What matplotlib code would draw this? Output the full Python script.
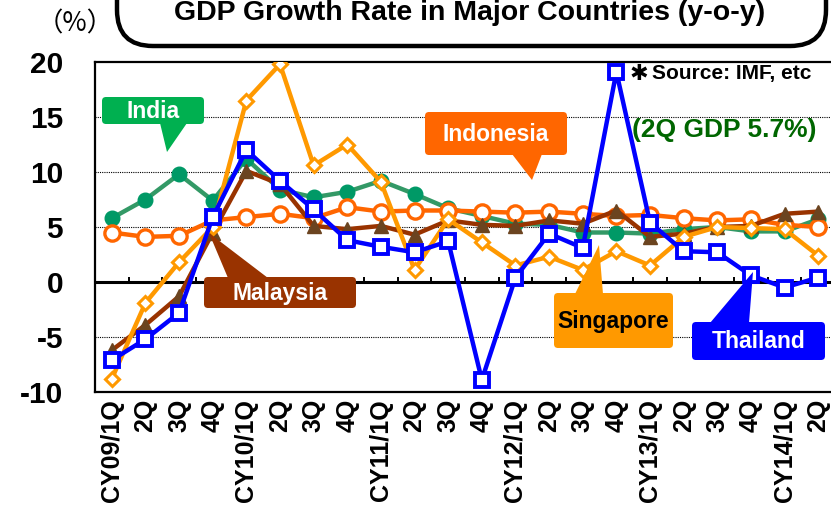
import numpy as np
import matplotlib
matplotlib.use("Agg")
import matplotlib.pyplot as plt
from matplotlib.patches import FancyBboxPatch, Polygon

# --- data (y-o-y %) ---
quarters = ["CY09/1Q", "2Q", "3Q", "4Q",
            "CY10/1Q", "2Q", "3Q", "4Q",
            "CY11/1Q", "2Q", "3Q", "4Q",
            "CY12/1Q", "2Q", "3Q", "4Q",
            "CY13/1Q", "2Q", "3Q", "4Q",
            "CY14/1Q", "2Q"]

india = [5.8, 7.5, 9.8, 7.4, 11.2, 8.4, 7.7, 8.2, 9.2, 8.0, 6.7, 6.0,
         5.3, 5.2, 4.5, 4.5, 4.4, 4.8, 5.0, 4.6, 4.6, 5.7]
indonesia = [4.5, 4.1, 4.2, 5.6, 5.9, 6.2, 5.8, 6.8, 6.4, 6.5, 6.5, 6.4,
             6.3, 6.4, 6.2, 6.0, 6.1, 5.8, 5.6, 5.7, 5.2, 5.0]
malaysia = [-6.2, -3.9, -1.3, 4.5, 10.1, 8.9, 5.1, 4.8, 5.1, 4.3, 5.6, 5.2,
            5.1, 5.6, 5.3, 6.5, 4.1, 4.4, 5.0, 5.1, 6.2, 6.4]
singapore = [-8.8, -1.9, 1.8, 5.0, 16.5, 19.8, 10.6, 12.5, 9.1, 1.1, 5.7, 3.6,
             1.5, 2.3, 1.1, 2.8, 1.5, 4.1, 5.0, 4.9, 4.8, 2.4]
thailand = [-7.1, -5.2, -2.8, 5.9, 12.0, 9.2, 6.6, 3.8, 3.2, 2.7, 3.7, -8.9,
            0.4, 4.4, 3.1, 19.1, 5.4, 2.8, 2.7, 0.6, -0.5, 0.4]

W, H = 831, 518
fig = plt.figure(figsize=(W / 100, H / 100), dpi=100, facecolor="white")
ax = fig.add_axes([95 / W, (H - 392) / H, 740 / W, 330 / H])

x = np.arange(len(quarters))
lw = 3.2

ax.plot(x, india, color="#339966", lw=lw, marker="o", ms=10.5,
        mfc="#009966", mec="#009966", zorder=3)
ax.plot(x, indonesia, color="#FF6600", lw=lw, marker="o", ms=11,
        mfc="white", mec="#FF6600", mew=2.4, zorder=4)
ax.plot(x, malaysia, color="#993300", lw=lw, marker="^", ms=10,
        mfc="#6B4420", mec="#6B4420", zorder=5)
ax.plot(x, singapore, color="#FF9900", lw=lw, marker="D", ms=7.5,
        mfc="white", mec="#FF9900", mew=2.2, zorder=6)
ax.plot(x, thailand, color="#0000FF", lw=lw, marker="s", ms=10.5,
        mfc="white", mec="#0000FF", mew=2.8, zorder=7)

# axes styling
ax.set_xlim(-0.5, len(quarters) - 0.5)
ax.set_ylim(-10, 20)
ax.set_yticks([-10, -5, 0, 5, 10, 15, 20])
ax.set_yticklabels(["-10", "-5", "0", "5", "10", "15", "20"])
ax.set_xticks(x)
ax.set_xticklabels(quarters, rotation=90, fontsize=18, fontweight="bold",
                   family="Liberation Sans")
ax.tick_params(axis="x", length=0, pad=5)
ax.tick_params(axis="y", length=0, pad=23, labelsize=21.5)
for lab in ax.get_yticklabels():
    lab.set_family("Liberation Sans")
    lab.set_fontweight("bold")

for s in ["left", "top", "bottom"]:
    ax.spines[s].set_color("black")
    ax.spines[s].set_linewidth(1.6)
ax.spines["right"].set_visible(False)

for gy in [-5, 5, 10, 15]:
    ax.axhline(gy, color="black", lw=0.8, ls=(0, (1, 1)), zorder=1)
ax.axhline(0, color="black", lw=2.2, zorder=2)
ax.vlines(x[:-1] + 0.5, 0, 0.45, color="black", lw=1.4, zorder=2)

# --- overlay in pixel coordinates for title, callouts and notes ---
ov = fig.add_axes([0, 0, 1, 1], zorder=10)
ov.set_xlim(0, W)
ov.set_ylim(H, 0)
ov.axis("off")
ov.patch.set_alpha(0)

ov.add_patch(FancyBboxPatch((117, -40), 709, 86,
                            boxstyle="round,pad=0,rounding_size=36",
                            fc="white", ec="black", lw=3.2))
ov.text(470, 20.5, "GDP Growth Rate in Major Countries (y-o-y)",
        ha="center", va="baseline", fontsize=20.5, fontweight="bold",
        family="Liberation Sans")
ov.text(75, 24, "（%）", ha="center", va="center", fontsize=19,
        family=["Noto Sans CJK JP", "DejaVu Sans"])

ov.text(630, 73.5, "✱", ha="left", va="center", fontsize=16,
        fontweight="bold", family="DejaVu Sans")
ov.text(652, 73.5, "Source: IMF, etc", ha="left", va="center",
        fontsize=15, fontweight="bold", family="Liberation Sans")
ov.text(632, 130, "(2Q GDP 5.7%)", ha="left", va="center",
        fontsize=19, fontweight="bold", color="#006600",
        family="Liberation Sans")


def callout(box, tail, color, label, tcolor="white"):
    x0, y0, w, h = box
    ov.add_patch(Polygon(tail, closed=True, fc=color, ec="none"))
    ov.add_patch(FancyBboxPatch((x0, y0), w, h,
                                boxstyle="round,pad=0,rounding_size=4",
                                fc=color, ec="none"))
    ov.text(x0 + w / 2, y0 + h / 2 + 1, label, ha="center", va="center",
            color=tcolor, fontsize=16.5, fontweight="bold",
            family="Liberation Sans")


callout((102, 97, 102, 27), [(160, 123), (187, 123), (167, 152)],
        "#00B050", "India")
callout((425, 112, 142, 43), [(512, 154), (542, 154), (532, 180)],
        "#FF6600", "Indonesia")
callout((204, 277, 152, 31), [(228, 278), (268, 278), (209, 233)],
        "#993300", "Malaysia")
callout((554, 293, 119, 55), [(575, 294), (603, 294), (599, 245)],
        "#FF9900", "Singapore", tcolor="black")
callout((692, 322, 133, 38), [(710, 323), (749, 323), (753, 272)],
        "#0000FF", "Thailand")

fig.savefig("out.png", dpi=100, facecolor="white")
